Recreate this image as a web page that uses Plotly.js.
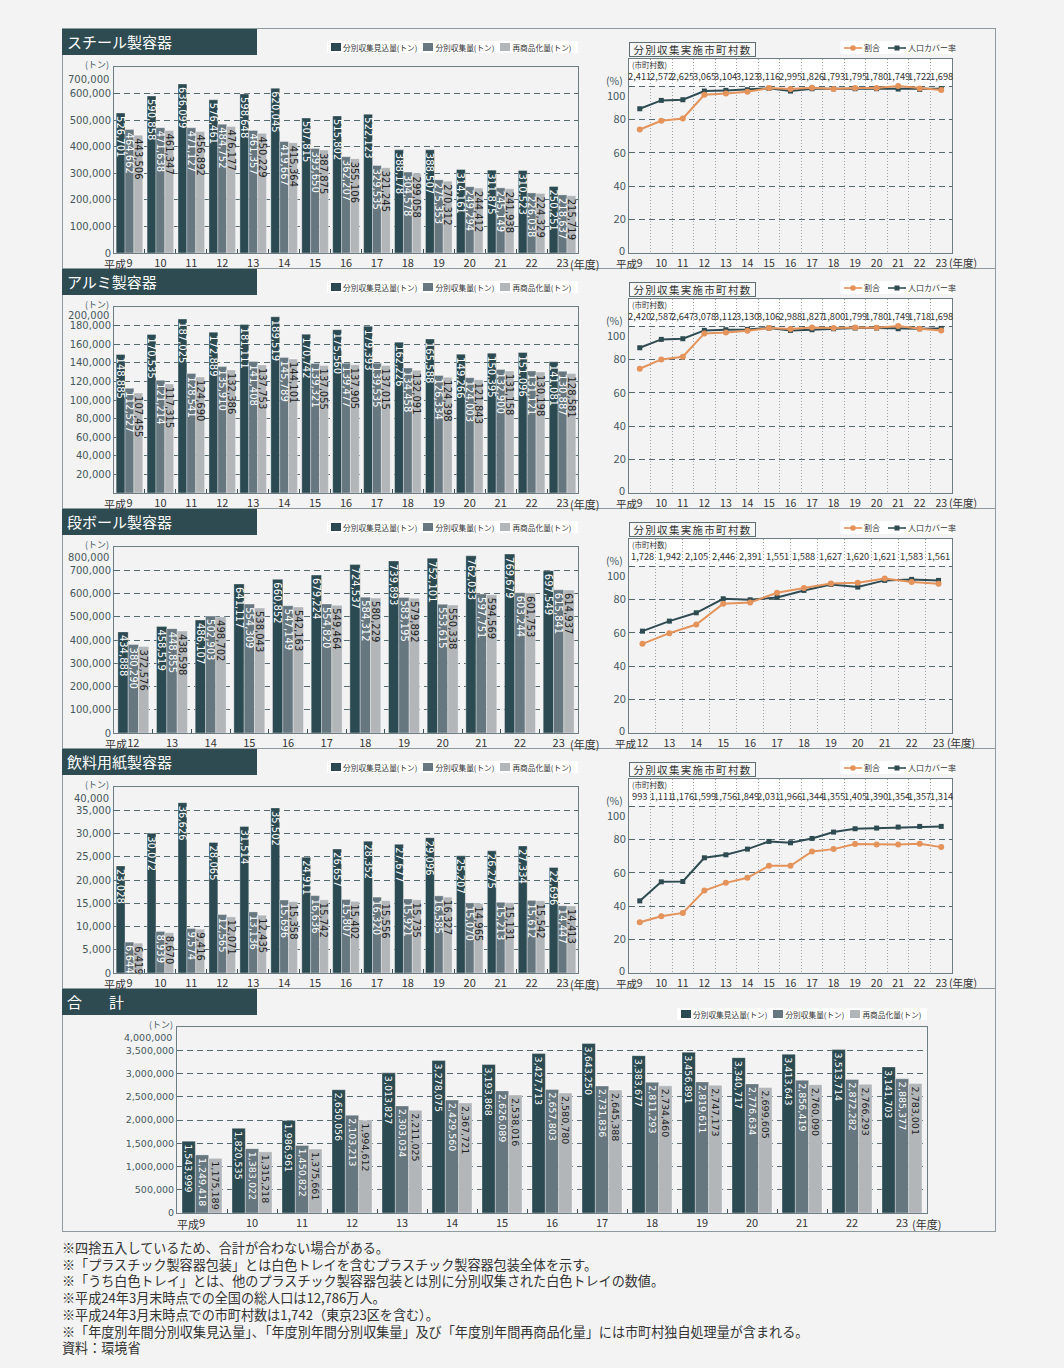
<!DOCTYPE html>
<html><head><meta charset="utf-8">
<script src="https://cdn.plot.ly/plotly-3.0.1.min.js"></script>
<style>
html,body{margin:0;padding:0}
body{background:#f3f3f3;width:1064px;height:1368px;position:relative;overflow:hidden;font-family:"Noto Sans CJK JP","Noto Sans",sans-serif;color:#333}
.abs{position:absolute}
.frame{left:62px;top:28px;width:934px;height:1204px;border:1px solid #8e9a9e;box-sizing:border-box}
.divider{left:62px;width:934px;height:0;border-top:1px solid #8e9a9e}
.sect{left:62px;width:195px;height:26px;background:#2e4b52;color:#fff;font-size:15px;line-height:26px;padding-left:5px;box-sizing:border-box;white-space:nowrap}
.ltitle{left:629px;width:127px;height:15px;border:1px solid #5d6d72;background:#f7f7f7;font-size:10.5px;line-height:14px;text-align:center;letter-spacing:1.3px;box-sizing:border-box;color:#333;white-space:nowrap}
.leg{background:#fff;height:12px;display:flex;align-items:center;font-size:7.7px;color:#333;white-space:nowrap;box-sizing:border-box;padding-left:4px}
.leg .sw{display:inline-block;width:10px;height:8px;margin-right:2px}
.leg .it{display:flex;align-items:center;margin-right:6px}
.chart{position:absolute}
.notes{left:62px;top:1240px;font-size:13.1px;line-height:16.7px;color:#333;white-space:nowrap}
</style>
</head><body>
<div class="abs frame"></div>
<div class="abs divider" style="top:268px"></div>
<div class="abs divider" style="top:508px"></div>
<div class="abs divider" style="top:748px"></div>
<div class="abs divider" style="top:988px"></div>
<div id="root"></div>
<div class="abs notes">
※四捨五入しているため、合計が合わない場合がある。<br>
※「プラスチック製容器包装」とは白色トレイを含むプラスチック製容器包装全体を示す。<br>
※「うち白色トレイ」とは、他のプラスチック製容器包装とは別に分別収集された白色トレイの数値。<br>
※平成24年3月末時点での全国の総人口は12,786万人。<br>
※平成24年3月末時点での市町村数は1,742（東京23区を含む）。<br>
※「年度別年間分別収集見込量」、「年度別年間分別収集量」及び「年度別年間再商品化量」には市町村独自処理量が含まれる。<br>
資料：環境省
</div>
<script>
// ---------------- DATA ----------------
const yearsH9 = ['平成9','10','11','12','13','14','15','16','17','18','19','20','21','22','23'];
const yearsH12 = ['平成12','13','14','15','16','17','18','19','20','21','22','23'];
const barNames = ['分別収集見込量(トン)','分別収集量(トン)','再商品化量(トン)'];
const lineNames = ['割合','人口カバー率'];

// スチール製容器
const steelPlanned   = [526701,590858,636099,576461,598648,620045,507815,515802,522123,388178,388507,314161,311875,310523,250251];
const steelCollected = [464662,471638,471127,484752,461357,419667,393650,362207,329535,304578,275353,249294,245149,226038,218637];
const steelRecycled  = [443506,461347,456892,476177,450229,415364,387875,355106,321245,299058,270312,244412,241938,224329,215719];
const steelRatio     = [74.0,79.2,80.6,94.8,95.6,96.6,98.8,98.2,99.0,98.2,98.8,98.8,100.0,98.6,97.6];
const steelCoverage  = [86.4,91.4,91.8,97.0,97.4,97.8,98.6,97.0,98.4,98.4,98.4,98.4,98.2,98.0,98.4];
const steelMunis     = [2411,2572,2625,3065,3104,3123,3116,2995,1826,1793,1795,1780,1749,1722,1698];
const steelTicks     = [0,100000,200000,300000,400000,500000,600000,700000];

// アルミ製容器
const aluPlanned   = [148885,170535,187025,172889,181111,189519,170742,175560,179393,162226,165588,149266,150395,151096,141081];
const aluCollected = [112527,121214,128541,135910,141408,145789,139321,139477,139535,134458,126334,124003,132900,131121,130887];
const aluRecycled  = [107455,117315,124690,132386,137753,144101,137055,137905,137015,132091,124398,121843,131158,130198,128581];
const aluRatio     = [74.4,80.0,81.6,95.6,96.2,97.2,98.8,98.2,99.2,98.8,99.2,99.0,100.0,98.4,97.4];
const aluCoverage  = [87.0,92.0,92.4,97.4,97.8,98.0,98.8,97.4,97.8,98.4,98.8,98.8,98.4,98.4,98.6];
const aluMunis     = [2420,2587,2647,3078,3112,3130,3106,2988,1827,1800,1799,1780,1749,1718,1698];
const aluTicks     = [0,20000,40000,60000,80000,100000,120000,140000,160000,180000,200000];

// 段ボール製容器
const cardPlanned   = [434888,458519,486107,641117,660852,679224,724537,739893,752101,762033,769679,697549];
const cardCollected = [380290,448855,502903,554309,547149,554820,584312,583195,553615,597751,603244,615841];
const cardRecycled  = [372576,438598,498702,538043,542163,549464,580229,579892,550338,594569,601753,614937];
const cardRatio     = [53.4,59.8,65.0,77.4,78.2,84.0,86.8,89.6,90.0,92.6,90.4,89.4];
const cardCoverage  = [61.0,67.0,72.0,80.4,79.8,81.2,85.4,89.0,87.4,91.4,92.0,91.4];
const cardMunis     = [1728,1942,2105,2446,2391,1551,1588,1627,1620,1621,1583,1561];
const cardTicks     = [0,100000,200000,300000,400000,500000,600000,700000,800000];

// 飲料用紙製容器
const paperPlanned   = [23028,30072,36626,28065,31514,35502,24911,26657,28352,27677,29096,25207,26275,27334,22696];
const paperCollected = [6644,8939,9574,12565,13136,15696,16636,15807,16320,15921,16585,15070,15213,15612,14447];
const paperRecycled  = [6419,8670,9416,12071,12435,15358,15742,15402,15556,15735,16327,14965,15131,15542,14413];
const paperRatio     = [30.4,34.0,36.0,49.4,54.0,57.0,64.2,64.2,72.8,74.2,77.2,77.0,77.0,77.4,75.4];
const paperCoverage  = [43.2,54.6,54.8,69.0,70.8,74.2,78.8,78.0,80.6,84.4,86.4,86.8,87.4,87.8,87.8];
const paperMunis     = [993,1111,1176,1599,1756,1849,2031,1966,1344,1355,1405,1390,1354,1357,1314];
const paperTicks     = [0,5000,10000,15000,20000,25000,30000,35000,40000];

// 合計
const totalPlanned   = [1543999,1820535,1986961,2650056,3013827,3278075,3193868,3427713,3643250,3383677,3456891,3340717,3413643,3513714,3141703];
const totalCollected = [1249418,1383022,1450822,2103213,2303034,2429560,2626089,2657803,2731836,2811293,2819611,2776634,2856419,2872282,2885377];
const totalRecycled  = [1175189,1315218,1375661,1994612,2211025,2367721,2538016,2580780,2645388,2734460,2747173,2699605,2760090,2766293,2783001];
const totalTicks     = [0,500000,1000000,1500000,2000000,2500000,3000000,3500000,4000000];

const pctTicks = [0,20,40,60,80,100];

// ---------------- STYLE ----------------
const FONT_JP = '"Noto Sans CJK JP", "Noto Sans", sans-serif';
const FONT_NUM = '"DejaVu Sans", "Noto Sans CJK JP", sans-serif';
const FONT_NARROW = '"Liberation Sans Narrow", "Noto Sans CJK JP", sans-serif';
const BAR_COLORS = ['#2c4a51','#667780','#b3b6b9'];
const BAR_TEXT = ['#ffffff','#ffffff','#222222'];
const DARK = '#2e4b52';
const ORANGE = '#e4935b';
const FRAME = '#6d7d83';
const GRID = '#56696f';
const fmt = v => v.toLocaleString('en-US');
const root = document.getElementById('root');
const CONFIG = {staticPlot:true, displayModeBar:false};

function addDiv(left, top, w, h){
  const d = document.createElement('div');
  d.className = 'chart';
  d.style.left = left+'px'; d.style.top = top+'px';
  d.style.width = w+'px'; d.style.height = h+'px';
  root.appendChild(d);
  return d;
}
function addHTML(cls, left, top, html, extra){
  const d = document.createElement('div');
  d.className = 'abs ' + cls;
  d.style.left = left+'px'; d.style.top = top+'px';
  if (extra) Object.assign(d.style, extra);
  d.innerHTML = html;
  document.body.appendChild(d);
  return d;
}

function barLegend(left, top, width){
  const html = barNames.map((n,i)=>`<span class="it"><span class="sw" style="background:${BAR_COLORS[i]}"></span>${n}</span>`).join('');
  addHTML('leg', left, top, html, {width: width+'px'});
}
function lineLegend(left, top){
  const sym = (c, shape) => `<svg width="18" height="8" style="margin-right:2px"><line x1="0" y1="4" x2="18" y2="4" stroke="${c}" stroke-width="1.6"/>` +
     (shape==='c' ? `<circle cx="9" cy="4" r="2.8" fill="${c}"/>` : `<rect x="6.5" y="1.5" width="5" height="5" fill="${c}"/>`) + `</svg>`;
  const html = `<span class="it" style="margin-right:8px">${sym(ORANGE,'c')}${lineNames[0]}</span><span class="it">${sym(DARK,'s')}${lineNames[1]}</span>`;
  addHTML('leg', left, top, html, {width:'112px', height:'13px', fontSize:'8px'});
}

function barChart(div, cats, series, cfg){
  const traces = series.map((y,i)=>({
    type:'bar', name: barNames[i], x: cats, y: y,
    marker:{color: BAR_COLORS[i], line:{color:'rgba(255,255,255,0.55)', width:0.6}},
    text: y.map(fmt), textposition:'inside', insidetextanchor:'end', textangle:90,
    insidetextfont:{family:FONT_NUM, size:cfg.textSize, color:BAR_TEXT[i]},
    textfont:{family:FONT_NUM, size:cfg.textSize, color:BAR_TEXT[i]},
    hoverinfo:'skip', showlegend:false, cliponaxis:false
  }));
  const ticks = cfg.ticks;
  const top = ticks[ticks.length-1];
  const last = cats.length-1;
  const ticktext = ticks.map((t,i)=> (i===ticks.length-1 || (cfg.hideZero && t===0)) ? '' : fmt(t));
  const tickFont = {family:FONT_NUM, size:cfg.yFont, color:'#46585e'};
  const xFont = {family:FONT_JP, size:11, color:'#333'};
  const annotations = [
    {xref:'paper', x:0, xanchor:'right', xshift:-3, yref:'paper', y:1, yanchor:'middle', yshift:cfg.topShift, text:fmt(top), showarrow:false, font:tickFont},
    {xref:'paper', x:0, xanchor:'center', xshift:cfg.unitX, yref:'paper', y:1, yanchor:'middle', yshift:3, text:'(トン)', showarrow:false, font:{family:FONT_JP, size:9, color:'#46585e'}},
    {xref:'x', x:0, xanchor:'right', xshift:cfg.prefShift, yref:'paper', y:0, yanchor:'top', yshift:-1, text:'平成', showarrow:false, font:xFont},
    {xref:'x', x:last, xanchor:'left', xshift:cfg.sufShift, yref:'paper', y:0, yanchor:'top', yshift:-1, text:'(年度)', showarrow:false, font:xFont}
  ];
  const layout = {
    width: cfg.w, height: cfg.h, margin: cfg.margin,
    paper_bgcolor:'rgba(0,0,0,0)', plot_bgcolor:'rgba(0,0,0,0)',
    barmode:'group', bargap: cfg.bargap, bargroupgap:0,
    showlegend:false,
    uniformtext:{mode:'show', minsize:cfg.textSize},
    font:{family:FONT_JP, color:'#333'},
    xaxis:{type:'category', range:[-0.5, cats.length-0.5], tickson:'boundaries', ticks:'inside', ticklen:4, tickcolor:'#3b4f55',
      tickmode:'array', tickvals:cats, ticktext:cats.map(c=>c.replace('平成','')), tickfont:xFont,
      showline:true, mirror:true, linecolor:FRAME, linewidth:1, showgrid:false, zeroline:false, fixedrange:true},
    yaxis:{range:[0, top], tickmode:'array', tickvals:ticks, ticktext:ticktext, tickfont:tickFont, ticks:'',
      showgrid:true, gridcolor:GRID, gridwidth:1, griddash:'6px,4px', zeroline:false,
      showline:true, mirror:true, linecolor:FRAME, linewidth:1, fixedrange:true},
    annotations
  };
  Plotly.newPlot(div, traces, layout, CONFIG);
}

function lineChart(div, cats, ratio, coverage, munis, cfg){
  const traces = [
    {type:'scatter', mode:'lines+markers', name:lineNames[1], x:cats, y:coverage,
      line:{color:DARK, width:2}, marker:{symbol:'square', size:5, color:DARK}, hoverinfo:'skip', showlegend:false, cliponaxis:false},
    {type:'scatter', mode:'lines+markers', name:lineNames[0], x:cats, y:ratio,
      line:{color:ORANGE, width:2}, marker:{symbol:'circle', size:6, color:ORANGE}, hoverinfo:'skip', showlegend:false, cliponaxis:false}
  ];
  const YMAX = 116.2;
  const last = cats.length-1;
  const xFont = {family:FONT_JP, size:10.5, color:'#333'};
  const yFont = {family:FONT_JP, size:11, color:'#46585e'};
  const annotations = munis.map((m,i)=>({xref:'x', x:i, yref:'y', y:106, text:fmt(m), showarrow:false, borderpad:0,
      font:{family:FONT_NARROW, size:9.3, color:'#333'}}));
  annotations.push(
    {xref:'paper', x:0, xanchor:'left', xshift:1, yref:'y', y:113, text:'(市町村数)', showarrow:false, font:{family:FONT_JP, size:7.5, color:'#333'}},
    {xref:'paper', x:0, xanchor:'right', xshift:-5, yref:'y', y:100, yshift:5.5, borderpad:0, text:'(%)', showarrow:false, font:{family:FONT_JP, size:10.5, color:'#46585e'}},
    {xref:'paper', x:0, xanchor:'right', xshift:-3, yref:'y', y:100, yshift:-8.5, borderpad:0, text:'100', showarrow:false, font:yFont},
    {xref:'paper', x:0, xanchor:'right', xshift:-3, yref:'y', y:0, yshift:3, borderpad:0, text:'0', showarrow:false, font:yFont},
    {xref:'x', x:0, xanchor:'right', xshift:cfg.prefShift, yref:'paper', y:0, yanchor:'top', yshift:-2, borderpad:0, text:'平成', showarrow:false, font:xFont},
    {xref:'x', x:last, xanchor:'left', xshift:6, yref:'paper', y:0, yanchor:'top', yshift:0, text:'(年度)', showarrow:false, font:xFont}
  );
  const layout = {
    width: 392, height: 252, margin:{l:25, r:44, t:31, b:27},
    paper_bgcolor:'rgba(0,0,0,0)', plot_bgcolor:'rgba(0,0,0,0)',
    showlegend:false, font:{family:FONT_JP, color:'#333'},
    xaxis:{type:'category', range:[-0.5, cats.length-0.5], tickson:'boundaries', ticks:'',
      tickmode:'array', tickvals:cats, ticktext:cats.map(c=>c.replace('平成','')), tickfont:xFont,
      showgrid:true, gridcolor:'#9aa3a7', gridwidth:1, griddash:'1px,2px',
      showline:true, mirror:true, linecolor:FRAME, linewidth:1, zeroline:false, fixedrange:true},
    yaxis:{range:[0, YMAX], tickmode:'array', tickvals:pctTicks, ticktext:pctTicks.map(t=> (t===100 || t===0) ? '' : String(t)), tickfont:yFont, ticks:'',
      showgrid:true, gridcolor:GRID, gridwidth:1, griddash:'6px,4px', zeroline:false,
      showline:true, mirror:true, linecolor:FRAME, linewidth:1, fixedrange:true},
    shapes:[{type:'rect', xref:'paper', x0:0, x1:1, yref:'y', y0:100, y1:YMAX, fillcolor:'#ffffff', line:{width:0}, layer:'below'}],
    annotations
  };
  Plotly.newPlot(div, traces, layout, CONFIG);
}

// ---------------- SECTIONS ----------------
const sections = [
  {title:'スチール製容器', cats:yearsH9, bars:[steelPlanned,steelCollected,steelRecycled], ticks:steelTicks, ratio:steelRatio, cov:steelCoverage, munis:steelMunis, bargap:0.14, pref:-1, suf:5, hideZero:false, topShift:-12},
  {title:'アルミ製容器', cats:yearsH9, bars:[aluPlanned,aluCollected,aluRecycled], ticks:aluTicks, ratio:aluRatio, cov:aluCoverage, munis:aluMunis, bargap:0.14, pref:-1, suf:5, hideZero:true, topShift:-8},
  {title:'段ボール製容器', cats:yearsH12, bars:[cardPlanned,cardCollected,cardRecycled], ticks:cardTicks, ratio:cardRatio, cov:cardCoverage, munis:cardMunis, bargap:0.2, pref:-4, suf:9, hideZero:false, topShift:-10},
  {title:'飲料用紙製容器', cats:yearsH9, bars:[paperPlanned,paperCollected,paperRecycled], ticks:paperTicks, ratio:paperRatio, cov:paperCoverage, munis:paperMunis, bargap:0.14, pref:-1, suf:5, hideZero:false, topShift:-11}
];

sections.forEach((s, k)=>{
  const dy = 240*k;
  addHTML('sect', 62, 29+dy, s.title);
  addHTML('ltitle', 629, 42+dy, '分別収集実施市町村数');
  barLegend(327, 41+dy, 251);
  lineLegend(840, 41+dy);
  const bd = addDiv(62, 28+dy, 538, 252);
  barChart(bd, s.cats, s.bars, {w:538, h:252, margin:{l:52, r:22, t:39, b:27}, ticks:s.ticks, bargap:s.bargap,
    textSize:10, yFont:10, topShift:s.topShift, unitX:-17, prefShift:s.pref, sufShift:s.suf, hideZero:s.hideZero});
  const ld = addDiv(604, 28+dy, 392, 252);
  lineChart(ld, s.cats, s.ratio, s.cov, s.munis, {prefShift:s.pref});
});

// 合計
addHTML('sect', 62, 989, '合　計', {letterSpacing:'6px'});
barLegend(677, 1008, 250);
const td = addDiv(62, 988, 934, 256);
barChart(td, yearsH9, [totalPlanned,totalCollected,totalRecycled], {w:934, h:256, margin:{l:115, r:69, t:39, b:31}, ticks:totalTicks, bargap:0.2,
  textSize:9.5, yFont:9.5, topShift:-10, unitX:-16, prefShift:-1, sufShift:8, hideZero:false});
</script>
</body></html>
